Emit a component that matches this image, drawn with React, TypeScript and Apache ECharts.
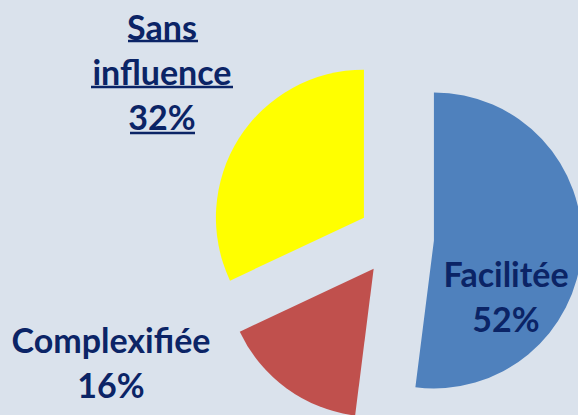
import React, { useEffect, useRef } from "react";
import * as echarts from "echarts";

const categories = ["Facilitée", "Complexifiée", "Sans influence"];
const values = [52, 16, 32];
const colors = ["#4f81bd", "#c0504d", "#ffff00"];

const TEXT_COLOR = "#0b2466";
const FONT = "Lato";

// label anchor positions (pixels) per slice, styling only
const labelPos = [
  { x: 506, y: 296 },
  { x: 111, y: 362 },
  { x: 162, y: 71 },
];

export default function App() {
  const ref = useRef<HTMLDivElement>(null);

  useEffect(() => {
    if (!ref.current) return;
    const chart = echarts.init(ref.current, undefined, { renderer: "svg" });
    const total = values.reduce((a, b) => a + b, 0);
    const underline = (x1: number, x2: number, y: number) => ({
      type: "line",
      shape: { x1, y1: y, x2, y2: y },
      style: { stroke: TEXT_COLOR, lineWidth: 2.5 },
      silent: true,
      z: 100,
    });
    const labels = categories.map((name, i) => ({
      type: "text",
      x: labelPos[i].x,
      y: labelPos[i].y,
      silent: true,
      z: 100,
      style: {
        text: `${name.replace(" ", "\n")}\n${Math.round((values[i] / total) * 100)}%`,
        fill: TEXT_COLOR,
        fontFamily: FONT,
        fontWeight: "bold",
        fontSize: 34,
        lineHeight: 45,
        textAlign: "center",
        textVerticalAlign: "middle",
      },
    }));
    chart.setOption({
      animation: false,
      backgroundColor: "#dae2ec",
      graphic: [
        ...labels,
        underline(128, 198, 41),
        underline(91, 233, 87),
        underline(130, 195, 133),
      ],
      series: [
        {
          type: "pie",
          center: [396, 238],
          radius: [0, 148],
          startAngle: 90,
          clockwise: true,
          selectedMode: "multiple",
          selectedOffset: 38,
          emphasis: { disabled: true },
          select: { itemStyle: { borderWidth: 0 } },
          labelLine: { show: false },
          label: { show: false },
          data: categories.map((name, i) => ({
            name,
            value: values[i],
            selected: true,
            itemStyle: { color: colors[i], borderWidth: 0 },
            select: { itemStyle: { color: colors[i], borderWidth: 0 } },
          })),
        },
      ],
    });
    return () => chart.dispose();
  }, []);

  return (
    <div
      ref={ref}
      style={{ position: "absolute", left: 0, top: 0, width: 578, height: 415 }}
    />
  );
}
